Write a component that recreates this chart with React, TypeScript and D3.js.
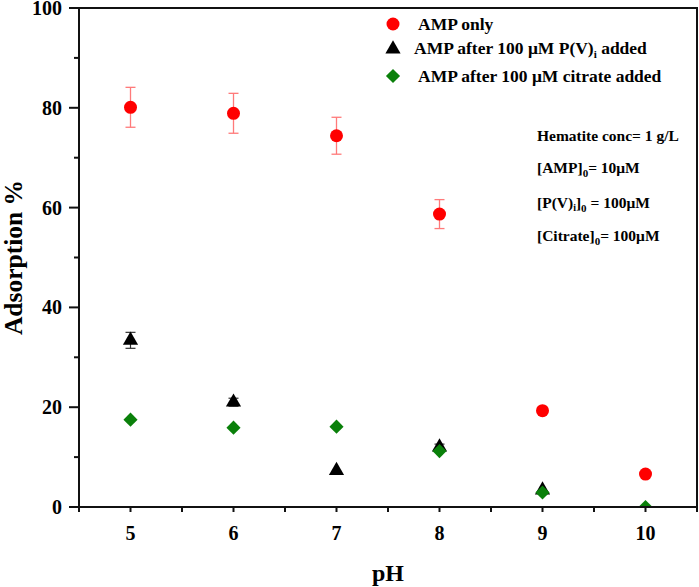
import React, { useEffect, useRef } from 'react';
import * as d3 from 'd3';

// pH values
const phValues = [5, 6, 7, 8, 9, 10];

// AMP only
const ampOnly = [80.1, 78.9, 74.4, 58.7, 19.3, 6.6];
const ampOnlyErr = [4.0, 4.0, 3.7, 2.9, 0, 0];

// AMP after 100 uM P(V)i added
const ampPv = [33.4, 21.0, 7.3, 12.0, 3.4, null];
const ampPvErr = [1.6, 0.8, 0, 0.6, 0, 0];

// AMP after 100 uM citrate added
const ampCitrate = [17.5, 15.9, 16.1, 11.2, 2.9, 0];

const yTicks = [0, 20, 40, 60, 80, 100];
const yMinorTicks = [10, 30, 50, 70, 90];
const xTicks = [5, 6, 7, 8, 9, 10];
const xMinorTicks = [4.5, 5.5, 6.5, 7.5, 8.5, 9.5, 10.5];

const FONT = "'Liberation Serif', 'Times New Roman', serif";

const App: React.FC = () => {
  const svgRef = useRef<SVGSVGElement>(null);

  useEffect(() => {
    if (!svgRef.current) return;
    const W = 699, H = 587;
    const m = { left: 79, right: 2, top: 8, bottom: 80 };

    const svg = d3.select(svgRef.current);
    svg.selectAll('*').remove();
    svg.attr('width', W).attr('height', H);

    const x = d3.scaleLinear().domain([4.5, 10.5]).range([m.left, W - m.right]);
    const y = d3.scaleLinear().domain([0, 100]).range([H - m.bottom, m.top]);

    svg.append('rect').attr('width', W).attr('height', H).attr('fill', '#fff');

    svg.append('clipPath').attr('id', 'plotclip')
      .append('rect')
      .attr('x', x(4.5)).attr('y', y(100))
      .attr('width', x(10.5) - x(4.5)).attr('height', y(0) - y(100));

    const plot = svg.append('g').attr('clip-path', 'url(#plotclip)');

    // red series error bars
    const redErrCol = '#ff7a7a';
    phValues.forEach((p, i) => {
      const e = ampOnlyErr[i];
      if (!e) return;
      const cx = x(p);
      plot.append('line').attr('x1', cx).attr('x2', cx)
        .attr('y1', y(ampOnly[i] - e)).attr('y2', y(ampOnly[i] + e))
        .attr('stroke', redErrCol).attr('stroke-width', 1.3);
      [ampOnly[i] - e, ampOnly[i] + e].forEach(v => {
        plot.append('line').attr('x1', cx - 5).attr('x2', cx + 5)
          .attr('y1', y(v)).attr('y2', y(v))
          .attr('stroke', redErrCol).attr('stroke-width', 1.3);
      });
    });

    plot.selectAll('circle.amp')
      .data(phValues.map((p, i) => ({ p, v: ampOnly[i] })))
      .enter().append('circle')
      .attr('cx', d => x(d.p)).attr('cy', d => y(d.v))
      .attr('r', 6.5).attr('fill', '#ff0000');

    // black triangles with error bars
    const triangle = d3.symbol().type(d3.symbolTriangle).size(100);
    phValues.forEach((p, i) => {
      const v = ampPv[i];
      if (v === null) return;
      const e = ampPvErr[i];
      const cx = x(p);
      if (e) {
        plot.append('line').attr('x1', cx).attr('x2', cx)
          .attr('y1', y(v - e)).attr('y2', y(v + e))
          .attr('stroke', '#333').attr('stroke-width', 1.2);
        [v - e, v + e].forEach(val => {
          plot.append('line').attr('x1', cx - 5).attr('x2', cx + 5)
            .attr('y1', y(val)).attr('y2', y(val))
            .attr('stroke', '#333').attr('stroke-width', 1.2);
        });
      }
      plot.append('path').attr('d', triangle()!)
        .attr('transform', `translate(${cx},${y(v)})`)
        .attr('fill', '#000');
    });

    // green diamonds
    const diamond = d3.symbol().type(d3.symbolSquare).size(100);
    plot.selectAll('path.cit')
      .data(phValues.map((p, i) => ({ p, v: ampCitrate[i] })))
      .enter().append('path')
      .attr('d', diamond()!)
      .attr('transform', d => `translate(${x(d.p)},${y(d.v)}) rotate(45)`)
      .attr('fill', '#0a800a');

    // frame
    const axisCol = '#111';
    svg.append('rect')
      .attr('x', x(4.5)).attr('y', y(100))
      .attr('width', x(10.5) - x(4.5)).attr('height', y(0) - y(100))
      .attr('fill', 'none').attr('stroke', axisCol).attr('stroke-width', 2);

    // y ticks
    yTicks.forEach(t => {
      svg.append('line').attr('x1', x(4.5) - 10).attr('x2', x(4.5))
        .attr('y1', y(t)).attr('y2', y(t)).attr('stroke', axisCol).attr('stroke-width', 2);
      svg.append('text').attr('x', 62).attr('y', y(t) + 7)
        .attr('text-anchor', 'end').attr('font-family', FONT)
        .attr('font-weight', 'bold').attr('font-size', 20).text(t);
    });
    yMinorTicks.forEach(t => {
      svg.append('line').attr('x1', x(4.5) - 5).attr('x2', x(4.5))
        .attr('y1', y(t)).attr('y2', y(t)).attr('stroke', axisCol).attr('stroke-width', 2);
    });

    // x ticks
    [...xTicks, ...xMinorTicks].forEach(t => {
      svg.append('line').attr('x1', x(t)).attr('x2', x(t))
        .attr('y1', y(0)).attr('y2', y(0) + 5).attr('stroke', axisCol).attr('stroke-width', 2);
    });
    xTicks.forEach(t => {
      svg.append('text').attr('x', x(t)).attr('y', 540)
        .attr('text-anchor', 'middle').attr('font-family', FONT)
        .attr('font-weight', 'bold').attr('font-size', 20).text(t);
    });

    // axis titles
    svg.append('text').attr('x', (x(4.5) + x(10.5)) / 2).attr('y', 581)
      .attr('text-anchor', 'middle').attr('font-family', FONT)
      .attr('font-weight', 'bold').attr('font-size', 24).text('pH');
    svg.append('text')
      .attr('transform', `translate(22,${(y(0) + y(100)) / 2}) rotate(-90)`)
      .attr('text-anchor', 'middle').attr('font-family', FONT)
      .attr('font-weight', 'bold').attr('font-size', 25.5).text('Adsorption %');

    // legend
    const lx = 393;
    svg.append('circle').attr('cx', lx).attr('cy', 24).attr('r', 6.5).attr('fill', '#ff0000');
    svg.append('path').attr('d', triangle()!).attr('transform', `translate(${lx},49)`).attr('fill', '#000');
    svg.append('path').attr('d', diamond()!).attr('transform', `translate(${lx},76) rotate(45)`).attr('fill', '#0a800a');

    const legText = (xx: number, yy: number) =>
      svg.append('text').attr('x', xx).attr('y', yy)
        .attr('font-family', FONT).attr('font-weight', 'bold').attr('font-size', 17.5);

    legText(418, 30).text('AMP only');
    const t2 = legText(414, 54);
    t2.append('tspan').text('AMP after 100 \u03bcM P(V)');
    t2.append('tspan').attr('font-size', 11).attr('dy', 4).text('i');
    t2.append('tspan').attr('dy', -4).text(' added');
    legText(418, 82).text('AMP after 100 \u03bcM citrate added');

    // annotations
    const annText = (yy: number) =>
      svg.append('text').attr('x', 537).attr('y', yy)
        .attr('font-family', FONT).attr('font-weight', 'bold').attr('font-size', 15.5);

    annText(141).text('Hematite conc= 1 g/L');
    const a2 = annText(173);
    a2.append('tspan').text('[AMP]');
    a2.append('tspan').attr('font-size', 11).attr('dy', 4).text('0');
    a2.append('tspan').attr('dy', -4).text('= 10\u03bcM');
    const a3 = annText(208);
    a3.append('tspan').text('[P(V)');
    a3.append('tspan').attr('font-size', 10).attr('dy', 3).text('i');
    a3.append('tspan').attr('dy', -3).text(']');
    a3.append('tspan').attr('font-size', 11).attr('dy', 4).text('0');
    a3.append('tspan').attr('dy', -4).text(' = 100\u03bcM');
    const a4 = annText(241);
    a4.append('tspan').text('[Citrate]');
    a4.append('tspan').attr('font-size', 11).attr('dy', 4).text('0');
    a4.append('tspan').attr('dy', -4).text('= 100\u03bcM');
  }, []);

  return <svg ref={svgRef} style={{ position: 'absolute', left: 0, top: 0 }} />;
};

export default App;
